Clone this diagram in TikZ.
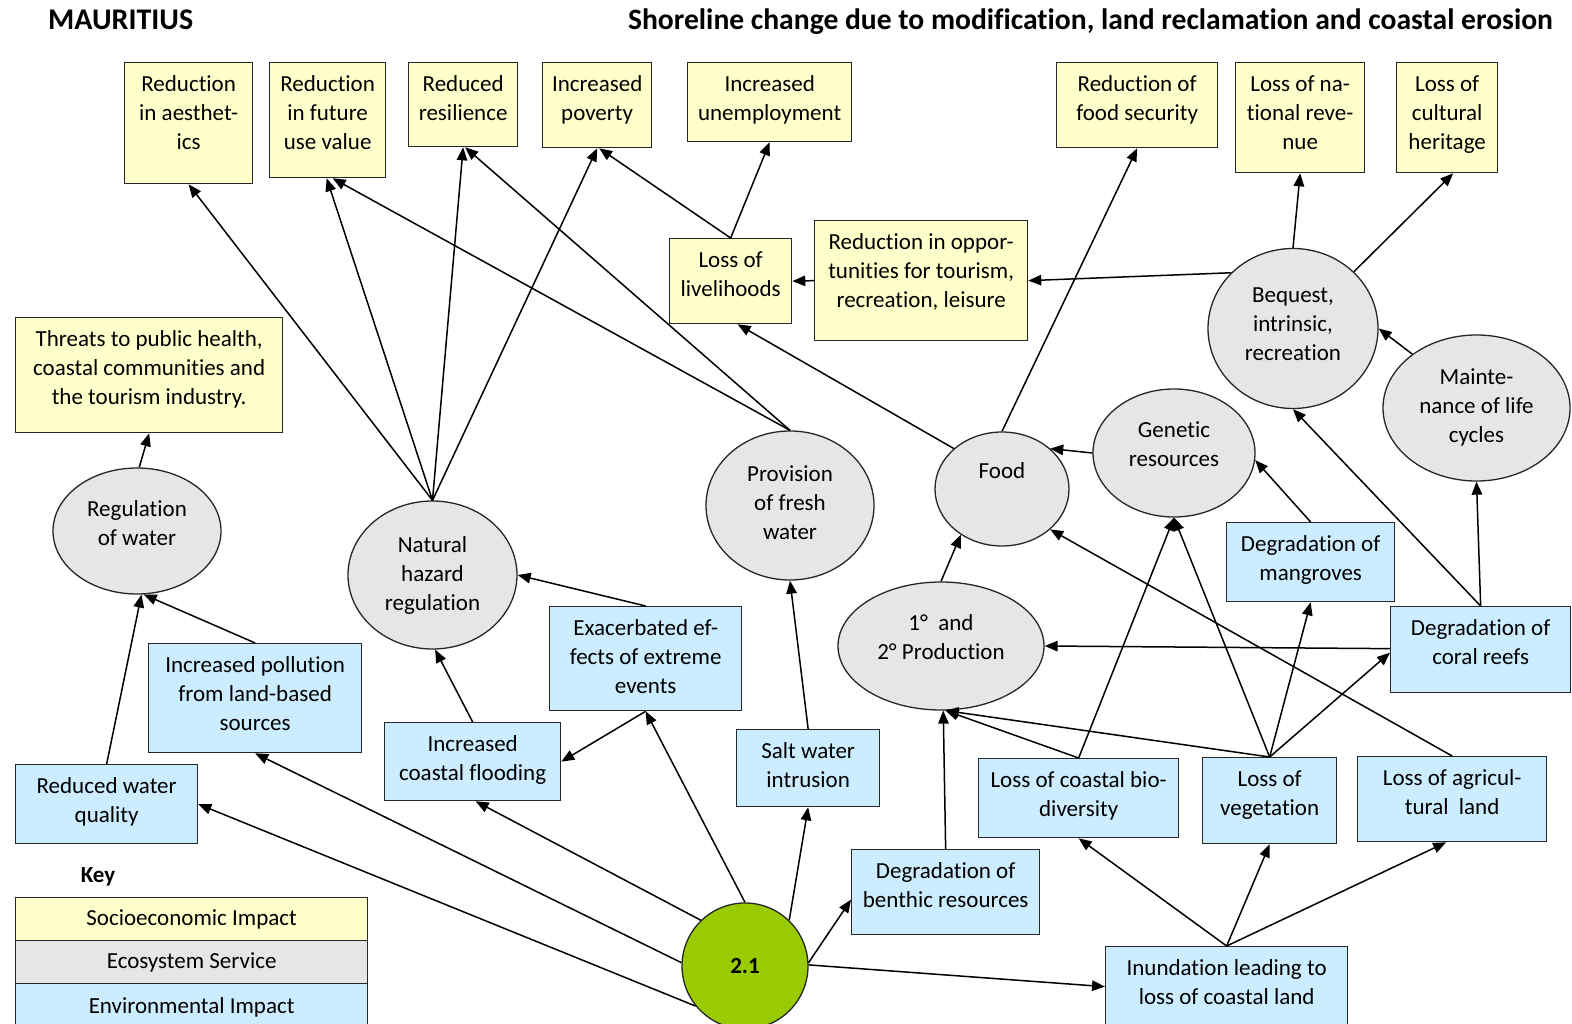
\documentclass[tikz,border=0pt]{standalone}
\usepackage{fontspec}
\setmainfont{Carlito}[Ligatures=NoCommon]
\usetikzlibrary{arrows.meta,shapes.geometric}

\definecolor{yel}{HTML}{FFFFCC}
\definecolor{gry}{HTML}{E6E6E6}
\definecolor{blu}{HTML}{CCECFF}
\definecolor{grn}{HTML}{99CC00}
\definecolor{edge}{HTML}{262626}

% box with fixed corners, text aligned to its top
% #1 name, #2 x1, #3 y1, #4 x2, #5 y2, #6 style, #7 text
\newcommand\tbox[7]{%
  \node[#6, anchor=north west, inner sep=0pt] (#1) at (#2,#3)
    {\parbox[c][\dimexpr#5pt-#3pt\relax][t]{\dimexpr#4pt-#2pt\relax}{\centering\rule{0pt}{29pt}#7\par}};}

% ellipse with its text placed separately
% #1 name, #2 cx, #3 cy, #4 rx, #5 ry, #6 text y, #7 text
\newcommand\sellipse[7]{%
  \node[ell, minimum width={2*#4pt}, minimum height={2*#5pt}] (#1) at (#2,#3) {};
  \node[etxt] (#1-t) at (#2,#6) {#7};}

\tikzset{
  socio/.style={draw=edge, line width=1.3pt, fill=yel},
  envi/.style={draw=edge, line width=1.3pt, fill=blu},
  ell/.style={ellipse, draw=edge, line width=1.3pt, fill=gry, inner sep=0pt},
  etxt/.style={align=center, inner sep=0pt},
  con/.style={-{Triangle[length=13pt,width=10.5pt]}, line width=1.5pt, draw=black},
  keyrow/.style={draw=edge, line width=1.3pt, anchor=north west, minimum width=352pt, inner sep=0pt},
  ttl/.style={inner sep=0pt, font=\bfseries\fontsize{30}{36}\selectfont},
}

\begin{document}
\begin{tikzpicture}[x=1pt, y=-1pt, every node/.style={font=\fontsize{23}{29}\selectfont}]
\fill[white] (0,0) rectangle (1572,1024);
\useasboundingbox (0,0) rectangle (1572,1024);

% titles
\node[ttl, anchor=base west] (title1) at (48,30) {MAURITIUS};
\node[ttl, anchor=base east, font=\bfseries\fontsize{29.6}{36}\selectfont] (title2) at (1553,30) {Shoreline change due to modification, land reclamation and coastal erosion};

% socioeconomic impacts
\tbox{aes}{124}{62}{252}{183}{socio}{Reduction\\in aesthet-\\ics}
\tbox{fut}{269}{62}{385}{177}{socio}{Reduction\\in future\\use value}
\tbox{res}{408}{62}{517}{146}{socio}{Reduced\\resilience}
\tbox{pov}{542}{62}{651}{147}{socio}{Increased\\poverty}
\tbox{une}{687}{62}{851}{141}{socio}{Increased\\unemployment}
\tbox{fsec}{1056}{62}{1217}{147}{socio}{Reduction of\\food security}
\tbox{rev}{1235}{62}{1364}{172}{socio}{Loss of na-\\tional reve-\\nue}
\tbox{her}{1396}{62}{1497}{172}{socio}{Loss of\\cultural\\heritage}
\tbox{lol}{669}{238}{791}{323}{socio}{Loss of\\livelihoods}
\tbox{opp}{814}{220}{1027}{340}{socio}{Reduction in oppor-\\tunities for tourism,\\recreation, leisure}
\tbox{thr}{15}{317}{282}{432}{socio}{Threats to public health,\\coastal communities and\\the tourism industry.}

% environmental impacts
\tbox{poll}{148}{643}{361}{752}{envi}{Increased pollution\\from land-based\\sources}
\tbox{rwq}{15}{764}{197}{843}{envi}{Reduced water\\quality}
\tbox{flood}{384}{722}{560}{800}{envi}{Increased\\coastal flooding}
\tbox{exac}{549}{606}{741}{710}{envi}{Exacerbated ef-\\fects of extreme\\events}
\tbox{salt}{736}{729}{879}{806}{envi}{Salt water\\intrusion}
\tbox{benth}{851}{849}{1039}{934}{envi}{Degradation of\\benthic resources}
\tbox{bio}{978}{758}{1178}{837}{envi}{Loss of coastal bio-\\diversity}
\tbox{veg}{1202}{757}{1336}{843}{envi}{Loss of\\vegetation}
\tbox{agri}{1357}{756}{1546}{841}{envi}{Loss of agricul-\\tural\ \ land}
\tbox{inun}{1105}{946}{1347}{1030}{envi}{Inundation leading to\\loss of coastal land}
\tbox{mang}{1226}{522}{1394}{601}{envi}{Degradation of\\mangroves}
\tbox{coral}{1390}{606}{1570}{692}{envi}{Degradation of\\coral reefs}

% ecosystem services
\sellipse{row}{137}{531}{84}{63}{523}{Regulation\\of water}
\sellipse{nhr}{432.5}{575}{84.5}{74}{575}{Natural\\hazard\\regulation}
\sellipse{pfw}{790}{505.5}{84}{74.5}{503}{Provision\\of fresh\\water}
\sellipse{food}{1002}{489}{67}{57}{471}{Food}
\sellipse{gen}{1174}{453}{81}{64}{444}{Genetic\\resources}
\sellipse{beq}{1293}{328.5}{85}{80}{324}{Bequest,\\intrinsic,\\recreation}
\sellipse{mai}{1476.5}{408}{93.5}{73}{407}{Mainte-\\nance of life\\cycles}
\sellipse{prod}{941}{646}{103}{64}{637}{1°\ \ and\\2° Production}

% driver
\node[circle, draw=edge, line width=1.3pt, fill=grn, minimum size=126pt, inner sep=0pt, font=\bfseries\fontsize{23}{29}\selectfont] (drv) at (745,966) {2.1};

% key
\node[anchor=center, inner sep=0pt, font=\bfseries\fontsize{23}{29}\selectfont] (keyt) at (98,877) {Key};
\node[keyrow, fill=yel, minimum height=43pt] (k1) at (15,897) {Socioeconomic Impact};
\node[keyrow, fill=gry, minimum height=43pt] (k2) at (15,940) {Ecosystem Service};
\node[keyrow, fill=blu, minimum height=43pt, text depth=0pt] (k3) at (15,983) {Environmental Impact};

% connectors
\draw[con] (nhr.north) -- (aes.south);
\draw[con] (nhr.north) -- ([xshift=-1pt]fut.south);
\draw[con] (nhr.north) -- (res.south);
\draw[con] (nhr.north) -- (pov.south);
\draw[con] (pfw.north) -- ([xshift=5pt]fut.south);
\draw[con] (pfw.north) -- ([xshift=2pt]res.south);
\draw[con] (lol.north) -- ([xshift=2pt]pov.south);
\draw[con] (lol.north) -- (une.south);
\draw[con] (opp.west) -- (lol.east);
\draw[con] (food.140) -- ([xshift=7pt]lol.south);
\draw[con] (beq.138) -- (opp.east);
\draw[con] (beq.north) -- (rev.south);
\draw[con] (beq.43) -- ([xshift=6pt]her.south);
\draw[con] (mai.140) -- (beq.east);
\draw[con] (food.north) -- (fsec.south);
\draw[con] (gen.west) -- (food.40);
\draw[con] (prod.north) -- (food.228);
\draw[con] (mang.north) -- (gen.-5);
\draw[con] (coral.north) -- (mai.south);
\draw[con] (coral.north) -- (beq.south);
\draw[con] ([yshift=1pt]coral.west) -- (prod.east);
\draw[con] (bio.north) -- (prod.-86);
\draw[con] (bio.north) -- (gen.south);
\draw[con] (veg.north) -- (gen.south);
\draw[con] (veg.north) -- (mang.south);
\draw[con] (veg.north) -- ([yshift=-3pt]coral.west);
\draw[con] (veg.north) -- (prod.-86);
\draw[con] (agri.north) -- (food.-40);
\draw[con] (benth.north) -- (prod.-88);
\draw[con] (inun.north) -- (bio.south);
\draw[con] (inun.north) -- (veg.south);
\draw[con] (inun.north) -- ([xshift=-6pt]agri.south);
\draw[con] (drv.3) -- ([yshift=-7.5pt]benth.west);
\draw[con] (drv.1) -- ([yshift=2pt]inun.west);
\draw[con] (drv.46) -- (salt.south);
\draw[con] (drv.north) -- (exac.south);
\draw[con] (drv.134) -- ([xshift=3pt]flood.south);
\draw[con] (drv.177) -- (poll.south);
\draw[con] (drv.219) -- (rwq.east);
\draw[con] (salt.north) -- (pfw.south);
\draw[con] (exac.north) -- (nhr.east);
\draw[con] (exac.south) -- (flood.east);
\draw[con] (flood.north) -- (nhr.-88);
\draw[con] (poll.north) -- (row.-84);
\draw[con] (rwq.north) -- (row.-86);
\draw[con] (row.88) -- (thr.south);
\end{tikzpicture}
\end{document}
